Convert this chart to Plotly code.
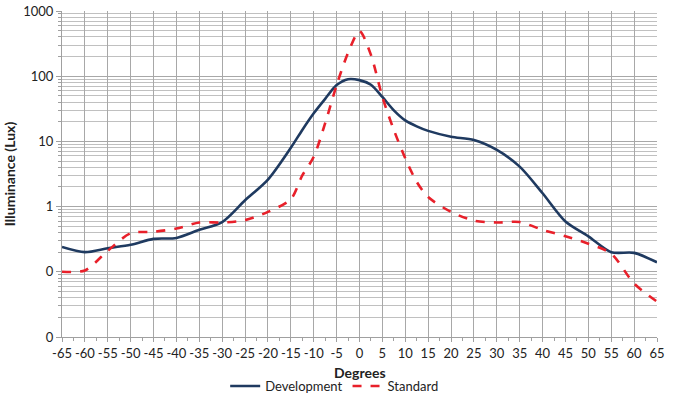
import plotly.graph_objects as go

degrees = [-65, -60, -55, -50, -45, -40, -35, -30, -25, -20, -15, -12.5, -10, -7.5, -5, -2.5, 0, 2.5, 5, 7.5, 10, 12.5, 15, 20, 25, 30, 35, 40, 45, 50, 55, 60, 65]
development = [0.24, 0.20, 0.23, 0.26, 0.32, 0.33, 0.44, 0.58, 1.25, 2.6, 8.0, 15, 27, 45, 73, 90, 87, 74, 48, 30, 21, 17, 14.5, 11.8, 10.5, 7.4, 4.1, 1.6, 0.59, 0.35, 0.20, 0.195, 0.14]
standard = [0.10, 0.105, 0.21, 0.39, 0.41, 0.46, 0.57, 0.57, 0.62, 0.83, 1.3, 3.0, 5.8, 19, 73, 228, 490, 212, 48, 15, 5.5, 2.4, 1.4, 0.83, 0.61, 0.57, 0.58, 0.44, 0.35, 0.27, 0.19, 0.066, 0.035]

x_ticks = list(range(-65, 66, 5))
y_tickvals = [0.01, 0.1, 1, 10, 100, 1000]
y_ticktext = ["0", "0", "1", "10", "100", "1000"]

font_family = "Lato, Open Sans, sans-serif"

fig = go.Figure()
fig.add_trace(go.Scatter(x=degrees, y=development, name="Development", mode="lines",
                         line=dict(color="#1f3a60", width=2.6, shape="spline", smoothing=0.8)))
fig.add_trace(go.Scatter(x=degrees, y=standard, name="Standard", mode="lines",
                         line=dict(color="#e8202a", width=2.6, dash="dash", shape="spline", smoothing=0.8)))

fig.update_layout(
    width=682, height=401,
    margin=dict(l=62, r=25, t=11, b=64, autoexpand=False),
    paper_bgcolor="white", plot_bgcolor="white",
    font=dict(family=font_family, size=13, color="#222"),
    showlegend=True,
    legend=dict(orientation="h", x=0.49, xanchor="center", xref="container",
                y=-0.005, yanchor="bottom", yref="container",
                font=dict(size=13), tracegroupgap=0),
    xaxis=dict(range=[-65, 65], tickvals=x_ticks, ticktext=[str(v) for v in x_ticks],
               tickangle=0,
               showgrid=True, gridcolor="#a8a8a8", gridwidth=1,
               showline=True, linecolor="#a0a0a0", linewidth=1,
               ticks="outside", ticklen=4, tickcolor="#a0a0a0",
               minor=dict(dtick=2.5, tick0=-65, ticks="outside", ticklen=3, tickcolor="#a0a0a0",
                          showgrid=False),
               tickfont=dict(size=13), zeroline=False, automargin=False),
    yaxis=dict(type="log", range=[-2, 3], tickvals=y_tickvals, ticktext=y_ticktext,
               showgrid=True, gridcolor="#a8a8a8", gridwidth=1,
               showline=True, linecolor="#a0a0a0", linewidth=1,
               ticks="outside", ticklen=5, tickcolor="#a0a0a0",
               minor=dict(dtick="D1", showgrid=True, gridcolor="#c0c0c0", gridwidth=1,
                          ticks="outside", ticklen=3, tickcolor="#a0a0a0"),
               title=dict(text="<b>Illuminance (Lux)</b>", font=dict(size=14), standoff=4),
               tickfont=dict(size=13), zeroline=False, automargin=False),
    annotations=[dict(text="<b>Degrees</b>", xref="paper", yref="paper", x=0.5, y=-0.108,
                      xanchor="center", yanchor="middle", showarrow=False,
                      font=dict(size=14, family=font_family, color="#222"))],
)

fig.write_html("out.html", config={"displayModeBar": False},
               post_script="document.body.style.margin='0';")
